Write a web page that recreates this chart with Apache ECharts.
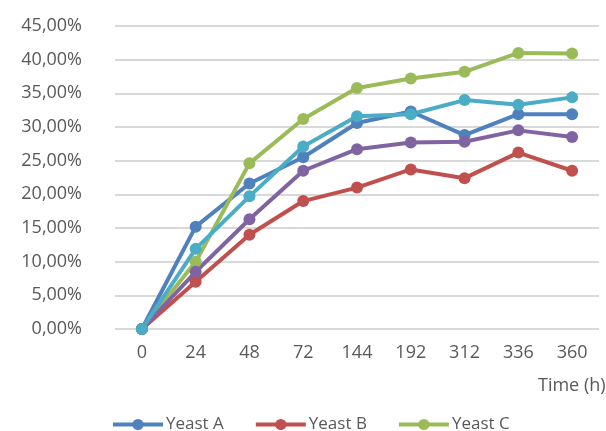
<!DOCTYPE html>
<html>
<head>
<meta charset="utf-8">
<script src="https://cdn.jsdelivr.net/npm/echarts@6/dist/echarts.min.js"></script>
<style>
  html, body { margin: 0; padding: 0; background: #fff; }
  #chart { width: 606px; height: 431px; }
</style>
</head>
<body>
<div id="chart"></div>
<script>
// Sampling times (hours) and yields (%) per yeast strain
const times = ['0', '24', '48', '72', '144', '192', '312', '336', '360'];
const yeastA = [0, 15.2, 21.6, 25.5, 30.6, 32.3, 28.8, 31.9, 31.9];
const yeastB = [0, 7.0, 14.0, 19.0, 21.0, 23.7, 22.4, 26.2, 23.5];
const yeastC = [0, 10.0, 24.6, 31.2, 35.8, 37.2, 38.2, 41.0, 40.9];
const yeastD = [0, 8.5, 16.3, 23.5, 26.7, 27.7, 27.8, 29.5, 28.5];
const yeastE = [0, 11.9, 19.7, 27.1, 31.6, 31.9, 34.0, 33.3, 34.4];
const yTicks = { min: 0, max: 45, step: 5 };

const font = 'Open Sans';
const textColor = '#595959';

function lineSeries(name, data, color) {
  return {
    name: name,
    type: 'line',
    data: data,
    symbol: 'circle',
    symbolSize: 12,
    lineStyle: { width: 4, color: color },
    itemStyle: { color: color },
    emphasis: { disabled: true },
    animation: false
  };
}

const chart = echarts.init(document.getElementById('chart'), null, { renderer: 'canvas' });
chart.setOption({
  backgroundColor: '#ffffff',
  animation: false,
  grid: { left: 115, right: 7, top: 26, bottom: 102, containLabel: false },
  xAxis: {
    type: 'category',
    data: times,
    boundaryGap: true,
    axisLine: { show: false },
    axisTick: { show: false },
    axisLabel: { color: textColor, fontFamily: font, fontSize: 18, margin: 15 },
    splitLine: { show: false }
  },
  yAxis: {
    type: 'value',
    min: yTicks.min,
    max: yTicks.max,
    interval: yTicks.step,
    axisLine: { show: false },
    axisTick: { show: false },
    axisLabel: {
      color: textColor, fontFamily: font, fontSize: 18, margin: 33,
      formatter: v => v.toFixed(2).replace('.', ',') + '%'
    },
    splitLine: { lineStyle: { color: '#d9d9d9', width: 2 } }
  },
  legend: {
    data: ['Yeast A', 'Yeast B', 'Yeast C'],
    left: 106,
    top: 411,
    itemWidth: 50,
    itemHeight: 14,
    itemGap: 30,
    lineStyle: { width: 4 },
    textStyle: { color: textColor, fontFamily: font, fontSize: 17, padding: [0, 0, 0, -2] }
  },
  graphic: [{
    type: 'text',
    left: 538,
    top: 377,
    style: { text: 'Time (h)', fill: textColor, font: '18px "Open Sans"' }
  }],
  series: [
    lineSeries('Yeast A', yeastA, '#4F81BD'),
    lineSeries('Yeast B', yeastB, '#C0504D'),
    lineSeries('Yeast C', yeastC, '#9BBB59'),
    lineSeries('Yeast D', yeastD, '#8064A2'),
    lineSeries('Yeast E', yeastE, '#4BACC6')
  ]
});
</script>
</body>
</html>
